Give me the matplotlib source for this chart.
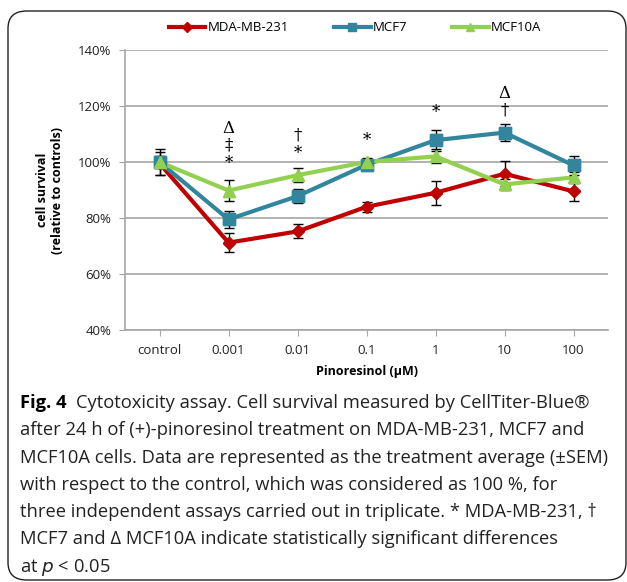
import matplotlib
matplotlib.use('Agg')
import matplotlib.pyplot as plt
from matplotlib.patches import FancyBboxPatch
import numpy as np

# Data (% of control)
doses = ['control', '0.001', '0.01', '0.1', '1', '10', '100']
mda = [99.5, 71.2, 75.2, 84.0, 89.0, 95.8, 89.5]
mda_err = [4.0, 3.5, 2.5, 1.8, 4.2, 4.5, 3.5]
mcf7 = [100.0, 79.5, 87.8, 99.0, 107.8, 110.5, 98.8]
mcf7_err = [4.5, 3.0, 2.5, 2.0, 3.8, 3.0, 3.5]
mcf10a = [100.0, 89.8, 95.3, 100.0, 102.0, 92.0, 94.5]
mcf10a_err = [2.0, 3.8, 2.5, 1.5, 2.5, 2.0, 2.0]

# significance marks: (dose index, symbol, y in %)
marks_x = [1, 1, 1, 2, 2, 3, 4, 5, 5]
marks_sym = ['*', '‡', 'Δ', '*', '†', '*', '*', '†', 'Δ']
marks_y = [99.5, 106.0, 112.0, 103.0, 109.5, 107.5, 117.5, 118.6, 124.5]

caption_head = 'Cytotoxicity assay. Cell survival measured by CellTiter-Blue®'
caption_lines = [
    'after 24 h of (+)-pinoresinol treatment on MDA-MB-231, MCF7 and',
    'MCF10A cells. Data are represented as the treatment average (±SEM)',
    'with respect to the control, which was considered as 100 %, for',
    'three independent assays carried out in triplicate. * MDA-MB-231, †',
    'MCF7 and Δ MCF10A indicate statistically significant differences',
    'at $\\it{p}$ < 0.05',
]

plt.rcParams['font.family'] = ['Open Sans', 'DejaVu Sans']

fig = plt.figure(figsize=(6.27, 5.82), dpi=100)

# rounded frame around the figure
frame = FancyBboxPatch((8 / 627, 2 / 582), 618 / 627, 569 / 582,
                       boxstyle='round,pad=0,rounding_size=0.03',
                       transform=fig.transFigure, fill=False, edgecolor='#222222', lw=1.0)
fig.patches.append(frame)

ax = fig.add_axes([125 / 627, 1 - 330 / 582, 483 / 627, 280 / 582])
x = np.arange(len(doses))

series = [
    ('MDA-MB-231', mda, mda_err, '#C00000', 'D', 6.5),
    ('MCF7', mcf7, mcf7_err, '#31859C', 's', 8),
    ('MCF10A', mcf10a, mcf10a_err, '#92D050', '^', 8.5),
]
handles = []
for name, vals, err, col, mk, ms in series:
    ln, = ax.plot(x, vals, color=col, lw=3, marker=mk, ms=ms, label=name, zorder=3)
    handles.append(ln)
for name, vals, err, col, mk, ms in series:
    ax.errorbar(x, vals, yerr=err, fmt='none', ecolor='black', elinewidth=1,
                capsize=3.5, capthick=1, zorder=4)
# markers on top of the error bars
for name, vals, err, col, mk, ms in series:
    ax.plot(x, vals, ls='none', color=col, marker=mk, ms=ms, zorder=5)

for xi, s, yi in zip(marks_x, marks_sym, marks_y):
    ax.text(xi, yi, s, ha='center', va='center', fontsize=12,
            family=['DejaVu Serif'])

ax.set_xlim(-0.5, 6.5)
ax.set_ylim(40, 140)
ax.set_yticks(np.arange(40, 141, 20))
ax.set_yticklabels([f'{v}%' for v in range(40, 141, 20)])
ax.set_xticks(x)
ax.set_xticklabels(doses)
ax.grid(axis='y', color='#A6A6A6', lw=1.2)
ax.set_axisbelow(True)
for s in ['top', 'right']:
    ax.spines[s].set_visible(False)
for s in ['left', 'bottom']:
    ax.spines[s].set_color('#A6A6A6')
    ax.spines[s].set_linewidth(1.2)
ax.tick_params(axis='both', colors='#A6A6A6', labelcolor='#222222', labelsize=9.5,
               length=4, direction='out', pad=6)

ax.set_xlabel('Pinoresinol (µM)', fontsize=9, fontweight='bold', labelpad=6)
ax.set_ylabel('cell survival\n(relative to controls)', fontsize=9, fontweight='bold',
              labelpad=10)

leg = ax.legend(handles=handles, loc='center', bbox_to_anchor=(0.476, 1.079), ncol=3,
                frameon=False, fontsize=9.5, handlelength=2.8, columnspacing=3.4,
                handletextpad=0.15, borderaxespad=0, markerscale=0.75)

y0 = 1 - 408 / 582
dy = 27.3 / 582
fig.text(20 / 627, y0, 'Fig. 4', fontsize=13.2, fontweight='bold', va='baseline')
fig.text(76 / 627, y0, caption_head, fontsize=13.2, va='baseline', color='#222222')
for i, line in enumerate(caption_lines):
    fig.text(20 / 627, y0 - (i + 1) * dy, line, fontsize=13.2, va='baseline',
             color='#222222')

plt.savefig('out.png', dpi=100)
